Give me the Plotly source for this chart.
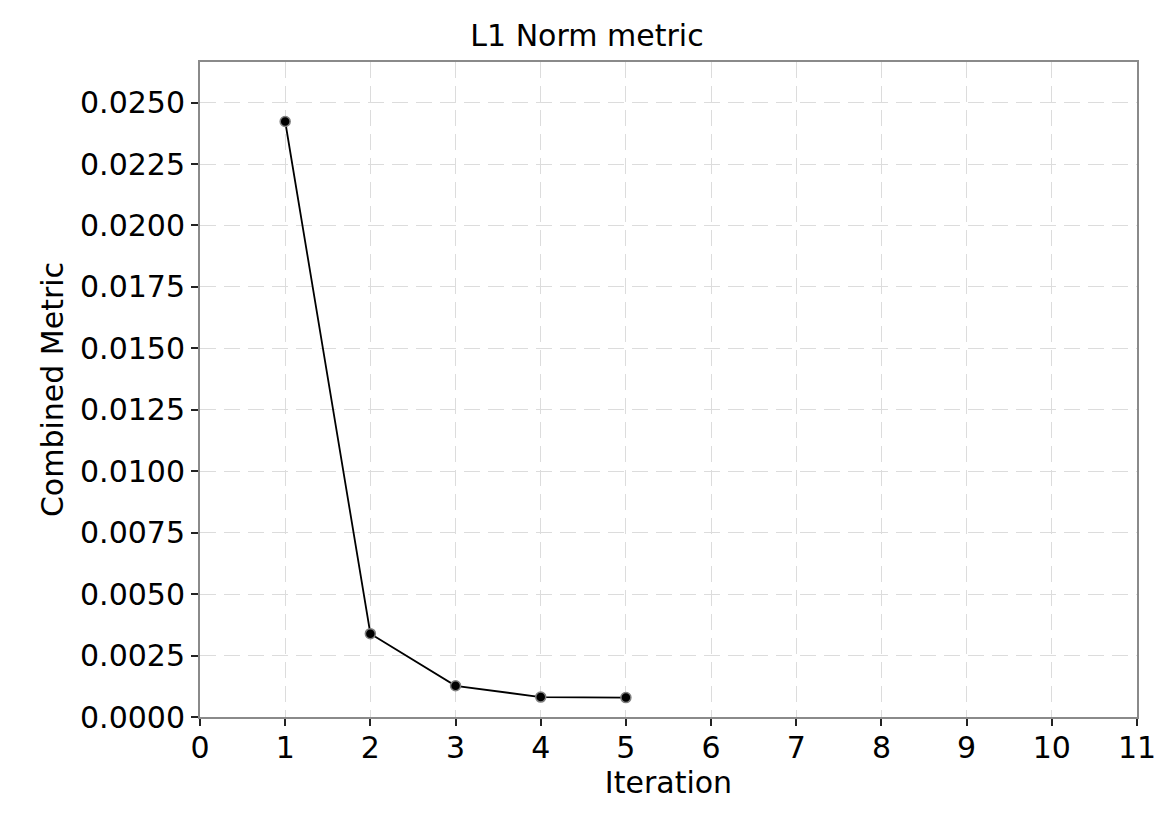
import plotly.graph_objects as go

iterations = [1, 2, 3, 4, 5]
metric_values = [0.02423, 0.00339, 0.00127, 0.00081, 0.00079]

x_ticks = list(range(0, 12))

fig = go.Figure()
fig.add_trace(go.Scatter(
    x=iterations, y=metric_values, mode="lines+markers",
    line=dict(color="black", width=1.8),
    marker=dict(color="black", size=10, line=dict(color="#808080", width=1.5)),
    showlegend=False,
))

font_family = "DejaVu Sans, sans-serif"
fig.update_layout(
    width=1170, height=827,
    margin=dict(l=192, r=41, t=54, b=118),
    plot_bgcolor="white", paper_bgcolor="white",
    font=dict(family=font_family, color="black", size=30),
    title=dict(text="L1 Norm metric", x=579 / 1170, xanchor="center",
               y=1 - 27 / 827, yanchor="middle", font=dict(size=30)),
)
grid_dash = "16px,8px"
fig.update_xaxes(
    range=[0, 11], tickvals=x_ticks, ticktext=[str(t) for t in x_ticks],
    showgrid=True, gridcolor="#dcdcdc", griddash=grid_dash, gridwidth=1,
    showline=True, linecolor="#8a8a8a", linewidth=2, mirror=True,
    ticks="outside", ticklen=7, tickcolor="#222222", tickwidth=1.5,
    ticklabelstandoff=-4,
    zeroline=False, tickfont=dict(size=30),
    title=dict(text="Iteration", font=dict(size=30), standoff=6),
)
fig.update_yaxes(
    range=[0, 0.02665], dtick=0.0025, tick0=0, tickformat=".4f",
    showgrid=True, gridcolor="#dcdcdc", griddash=grid_dash, gridwidth=1,
    showline=True, linecolor="#8a8a8a", linewidth=2, mirror=True,
    ticks="outside", ticklen=7, tickcolor="#222222", tickwidth=1.5,
    zeroline=False, tickfont=dict(size=30),
    title=dict(text="Combined Metric", font=dict(size=30), standoff=8),
)

fig.write_html("out.html")
